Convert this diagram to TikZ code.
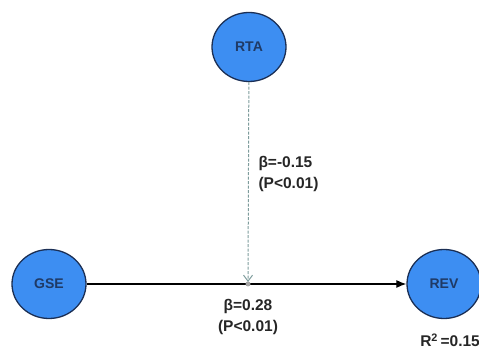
\documentclass[tikz,border=0pt]{standalone}
\usepackage{fontspec}
\setmainfont{Liberation Sans}
\usetikzlibrary{arrows.meta,shapes.geometric}
\definecolor{nodefill}{HTML}{3D8EF2}
\definecolor{nodeedge}{HTML}{1B2F55}
\definecolor{nodetext}{HTML}{1F3A66}
\definecolor{modline}{HTML}{7E9C9C}
\tikzset{
  var/.style={ellipse, draw=nodeedge, line width=1.3pt, fill=nodefill,
    minimum width=74pt, minimum height=69pt, inner sep=0pt,
    font=\fontsize{14}{16}\selectfont\bfseries, text=nodetext},
  lbl/.style={font=\fontsize{15.5}{21}\selectfont\bfseries, text=black!85, align=left}
}
\begin{document}
\begin{tikzpicture}[x=1pt,y=1pt]
\useasboundingbox (0,0) rectangle (479,358);
\node[var] (rta) at (249,311) {RTA};
\node[var] (gse) at (49,74) {GSE};
\node[var] (rev) at (444,74) {REV};
\coordinate (mid) at (248,74);
% main path
\draw[line width=1.2pt, -{Latex[length=10pt,width=8pt]}] (gse) -- (rev);
% moderating path
\draw[modline, line width=1pt, dash pattern=on 3pt off 1.5pt,
  -{Straight Barb[length=6pt,width=9pt]}]
  (rta) -- ([yshift=2pt]mid);
\fill[gray!70] (mid) circle (2.5pt);
\node[lbl, anchor=west] (b1) at (255,184) {β=-0.15\\(P<0.01)};
\node[lbl, align=center] (b2) at (248,41) {β=0.28\\(P<0.01)};
\node[lbl, anchor=east, inner sep=0pt] (r2) at (480,18) {R\textsuperscript{2}\,=0.15};
\end{tikzpicture}
\end{document}
